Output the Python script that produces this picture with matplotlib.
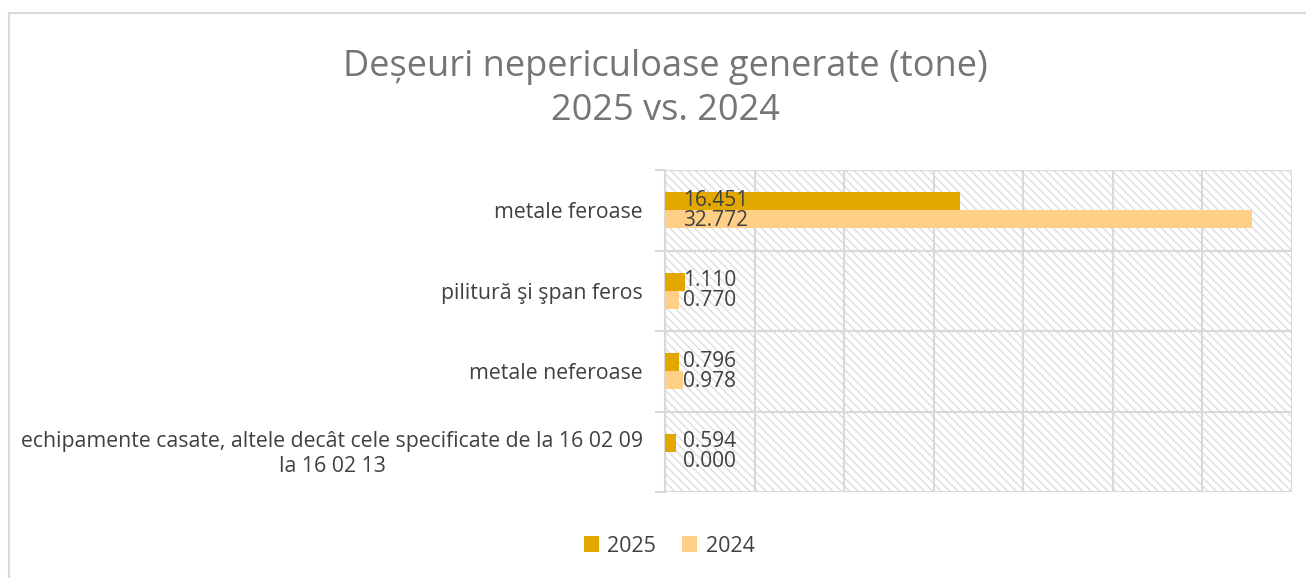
import matplotlib
matplotlib.use("Agg")
import matplotlib.pyplot as plt
from matplotlib.lines import Line2D
from matplotlib.patches import Rectangle
from matplotlib.transforms import blended_transform_factory
import numpy as np

categories = [
    "metale feroase",
    "pilitură şi şpan feros",
    "metale neferoase",
    "echipamente casate, altele decât cele specificate de la 16 02 09\nla 16 02 13",
]
values_2025 = [16.451, 1.110, 0.796, 0.594]
values_2024 = [32.772, 0.770, 0.978, 0.000]
series_names = ["2025", "2024"]

COLOR_2025 = "#E3A800"
COLOR_2024 = "#FFCF87"
GRID = "#D9D9D9"
TEXT = "#404040"

plt.rcParams["font.family"] = ["Open Sans", "DejaVu Sans"]
plt.rcParams["hatch.linewidth"] = 1.0
plt.rcParams["hatch.color"] = "#DEDEDE"

W, H = 1306, 578
fig = plt.figure(figsize=(W / 100, H / 100), dpi=100)

# chart frame
fig.add_artist(Line2D([9 / W, 1], [1 - 13 / H, 1 - 13 / H], color=GRID, lw=1.5))
fig.add_artist(Line2D([9 / W, 9 / W], [0, 1 - 13 / H], color=GRID, lw=1.5))

ax = fig.add_axes([665 / W, 1 - 492 / H, (1292 - 665) / W, (492 - 170) / H])

n = len(categories)
ypos = np.arange(n)[::-1].astype(float)
bh = 0.225

ax.add_patch(Rectangle((0, 0), 1, 1, transform=ax.transAxes, facecolor="white",
                       edgecolor="#DEDEDE", hatch="\\\\\\\\", lw=0, zorder=0))

ax.barh(ypos + bh / 2, values_2025, height=bh, color=COLOR_2025, zorder=3, label=series_names[0])
ax.barh(ypos - bh / 2, values_2024, height=bh, color=COLOR_2024, zorder=3, label=series_names[1])

for y, v in zip(ypos, values_2025):
    ax.annotate(f"{v:.3f}", (0, y + bh / 2), xytext=(13, 0.5), textcoords="offset points",
                va="center", ha="left", fontsize=15, color=TEXT, zorder=4)
for y, v in zip(ypos, values_2024):
    ax.annotate(f"{v:.3f}", (0, y - bh / 2), xytext=(13, -0.5), textcoords="offset points",
                va="center", ha="left", fontsize=15, color=TEXT, zorder=4)

ax.set_xlim(0, 35)
ax.set_ylim(-0.5, n - 0.5)
ax.set_xticks(np.arange(0, 36, 5))
ax.set_xticklabels([])
ax.tick_params(axis="x", length=0)
ax.grid(axis="x", color=GRID, lw=1.5, zorder=1)

# category labels, right aligned left of the axis
ax.set_yticks(ypos)
ax.set_yticklabels([])
ax.tick_params(axis="y", which="major", length=0)
trans = blended_transform_factory(fig.transFigure, ax.transData)
for y, cat in zip(ypos, categories):
    ax.text(643 / W, y - 0.03, cat, transform=trans, ha="right", va="center",
            multialignment="center", fontsize=15.3, color=TEXT, linespacing=1.25)

ax.set_yticks(np.arange(-0.5, n, 1.0), minor=True)
ax.tick_params(axis="y", which="minor", length=7, color=GRID, width=1.5)
ax.grid(axis="y", which="minor", color=GRID, lw=1.5, zorder=1)

for side in ["top", "right", "bottom"]:
    ax.spines[side].set_visible(False)
ax.spines["left"].set_color(GRID)
ax.spines["left"].set_linewidth(1.5)

fig.text(665.5 / W, 1 - 67 / H, "Deșeuri nepericuloase generate (tone)", ha="center", va="center",
         fontsize=26, color="#757575")
fig.text(665.5 / W, 1 - 111 / H, "2025 vs. 2024", ha="center", va="center",
         fontsize=26, color="#757575")

fig.legend(loc="center", bbox_to_anchor=(669 / W, 1 - 546 / H), ncol=2, frameon=False,
           fontsize=15.5, labelcolor=TEXT, handlelength=0.7, handleheight=0.7,
           handletextpad=0.4, columnspacing=1.2)

fig.savefig("out.png", dpi=100)
